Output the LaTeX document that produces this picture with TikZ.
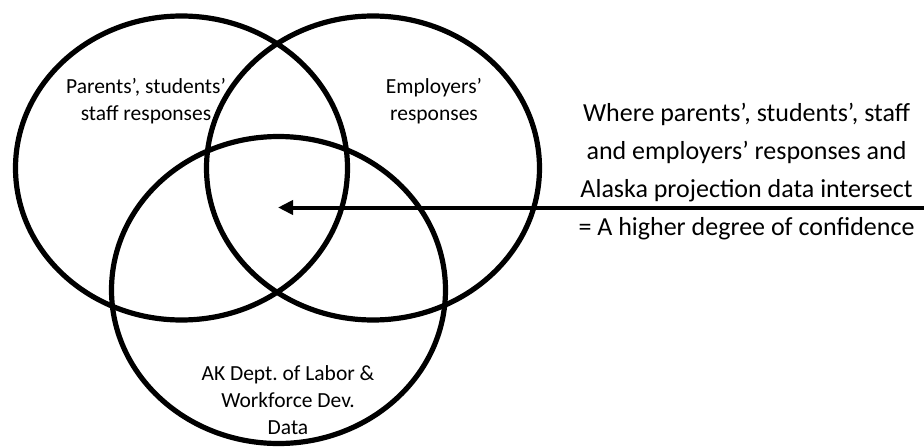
\documentclass[tikz,border=0pt]{standalone}
\usepackage{fontspec}
\setmainfont{Carlito}
\usetikzlibrary{arrows.meta}
\begin{document}
\begin{tikzpicture}[x=1pt,y=-1pt,
  ring/.style={line width=5.2pt},
  lbl/.style={align=center,font=\fontsize{21.5}{27}\selectfont,inner sep=0pt},
  bigtxt/.style={align=center,font=\fontsize{26}{38}\selectfont,inner sep=0pt},
  pointer/.style={line width=4pt,-{Triangle[length=15pt,width=14pt]}}]
\useasboundingbox (0,0) rectangle (924,447);
\draw[ring] (181.5,168) ellipse [x radius=166, y radius=152];
\draw[ring] (373,168) ellipse [x radius=166.5, y radius=152];
\draw[ring] (278.5,290) ellipse [x radius=167, y radius=153.5];
\node[lbl] (parents) at (146,101) {Parents’, students’\\staff responses};
\node[lbl] (employers) at (434,101) {Employers’\\responses};
\node[lbl] (akdol) at (288,400) {AK Dept.\ of Labor \&\\Workforce Dev.\\Data};
\node[bigtxt] (where) at (746.5,172) {Where parents’, students’, staff\\and employers’ responses and\\Alaska projection data intersect\\= A higher degree of confidence};
\coordinate (tail) at (926,207.5);
\coordinate (tip) at (278,207.5);
\draw[pointer] (tail) -- (tip);
\end{tikzpicture}
\end{document}
